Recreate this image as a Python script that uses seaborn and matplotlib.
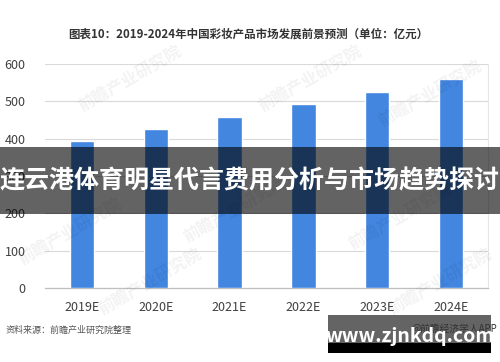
import matplotlib
matplotlib.use("Agg")
import matplotlib.pyplot as plt
import seaborn as sns
import pandas as pd
from matplotlib.patches import Rectangle

years = ["2019E", "2020E", "2021E", "2022E", "2023E", "2024E"]
values = [394, 426, 459, 494, 525, 559]
yticks = [0, 100, 200, 300, 400, 500, 600]
title = "图表10：2019-2024年中国彩妆产品市场发展前景预测（单位：亿元）"
banner = "连云港体育明星代言费用分析与市场趋势探讨"
source = "资料来源：前瞻产业研究院整理"
app_mark = "@前瞻经济学人APP"
site = "www.zjnkdq.com"

sns.set_theme(style="white")
plt.rcParams['font.family'] = ['Noto Sans CJK SC', 'DejaVu Sans']

df = pd.DataFrame({"year": years, "value": values})

fig = plt.figure(figsize=(5, 3.62), dpi=100)
ax = fig.add_axes([0.09, 0.2044, 0.886, 0.6188])

sns.barplot(data=df, x="year", y="value", hue="year", palette=["#4286E0"] * 6,
            width=0.33, legend=False, ax=ax, zorder=3, saturation=1)

ax.set_ylim(0, 600)
ax.set_yticks(yticks)
ax.set_xlim(-0.5, 5.5)
ax.set_xlabel("")
ax.set_ylabel("")
ax.grid(axis="y", color="#d9d9d9", linewidth=0.8, zorder=0)
for s in ["top", "left"]:
    ax.spines[s].set_visible(False)
ax.spines["right"].set_color("#e6e6e6")
ax.spines["right"].set_linewidth(0.8)
ax.spines["bottom"].set_color("#bfbfbf")
ax.spines["bottom"].set_linewidth(0.9)
ax.tick_params(axis="both", length=0, labelsize=9, colors="#404040")
ax.tick_params(axis="y", pad=14)
ax.tick_params(axis="x", pad=9)

# faint watermarks
for (x, y) in [(0.26, 0.78), (0.62, 0.78), (0.86, 0.74), (0.14, 0.36), (0.47, 0.42), (0.80, 0.40), (0.30, 0.22), (0.88, 0.22)]:
    fig.text(x, y, "前瞻产业研究院", fontsize=12, rotation=30, color="#000000", alpha=0.05,
             ha="center", va="center", fontweight="bold")

fig.text(0.496, 0.906, title, fontsize=8.3, fontweight="bold", color="#333333",
         ha="center", va="center")

# banner
fig.patches.append(Rectangle((0, 1 - 214 / 362), 1, 67 / 362, transform=fig.transFigure,
                             facecolor="black", alpha=0.61, edgecolor="none", zorder=5))
fig.text(0.5, 1 - 181 / 362, banner, fontsize=18, fontweight="bold", color="white",
         ha="center", va="center", zorder=6)

fig.text(0.012, 1 - 330 / 362, source, fontsize=6.5, color="#555555", style="italic",
         ha="left", va="center")

# site box
fig.patches.append(Rectangle((328 / 500, 1 - 343 / 362), 163 / 500, 28 / 362,
                             transform=fig.transFigure, facecolor="#646464",
                             edgecolor="none", zorder=5))
fig.patches.append(Rectangle((328 / 500, 1 - 353 / 362), 163 / 500, 10 / 362,
                             transform=fig.transFigure, facecolor="black",
                             edgecolor="none", zorder=5))
fig.text(0.908, 1 - 329 / 362, app_mark, fontsize=7, color="#333333",
         ha="center", va="center", zorder=6)
fig.text(0.82, 1 - 337 / 362, site, fontsize=14, fontweight="bold", color="white",
         ha="center", va="center", zorder=7)

fig.savefig("out.png", dpi=100)
